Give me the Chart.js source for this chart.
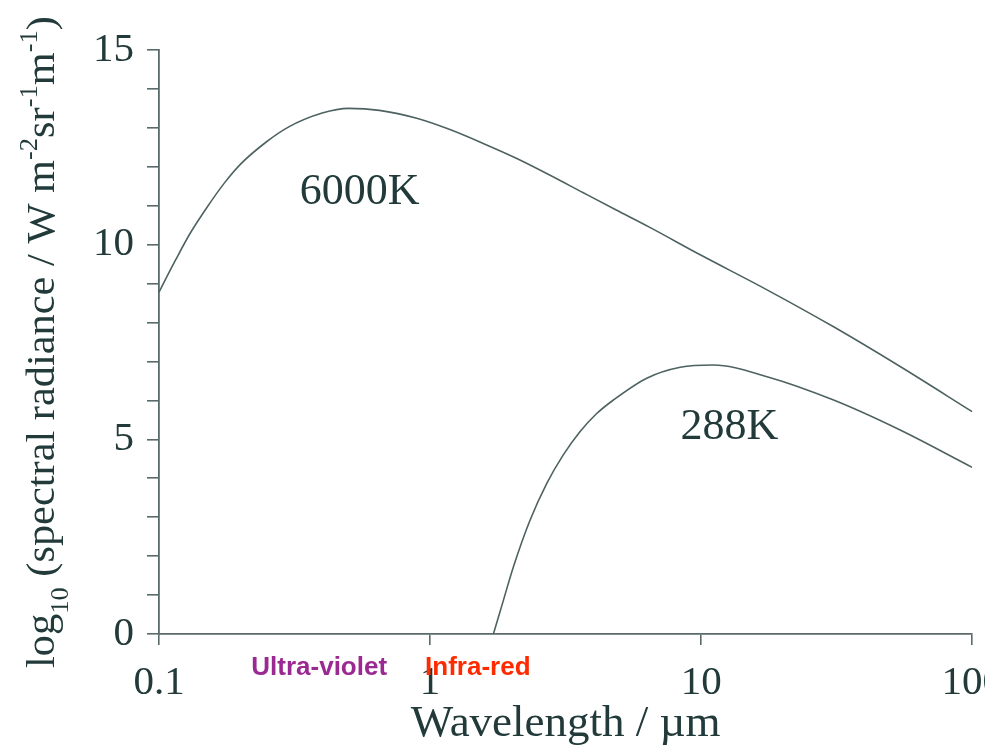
<!DOCTYPE html>
<html>
<head>
<meta charset="utf-8">
<title>Black-body spectral radiance</title>
<script src="https://cdn.jsdelivr.net/npm/chart.js@4.4.1/dist/chart.umd.min.js"></script>
<style>
  html, body { margin: 0; padding: 0; background: #ffffff; overflow: hidden; }
  #wrap { width: 1017px; height: 752px; }
</style>
</head>
<body>
<div id="wrap"><canvas id="c" width="1017" height="752"></canvas></div>
<script>
// Wavelength (µm) and log10 spectral radiance (W m-2 sr-1 m-1) for the 6000 K body
const wl6000  = [0.1, 0.115, 0.13, 0.15, 0.175, 0.2, 0.25, 0.3, 0.4, 0.5, 0.65, 0.9,
                 1.19, 1.57, 2.08, 2.76, 3.66, 4.86, 6.44, 9.92, 17.5, 30.8, 54.2, 100];
const rad6000 = [8.78, 9.6, 10.28, 10.95, 11.6, 12.07, 12.65, 13.02, 13.38, 13.5, 13.45, 13.24,
                 12.95, 12.6, 12.22, 11.79, 11.34, 10.89, 10.45, 9.74, 8.84, 7.89, 6.87, 5.71];

// Same quantity for the 288 K body
const wl288  = [1.712, 1.865, 2.03, 2.339, 2.695, 3.1, 3.577, 4.1, 4.747, 6.3, 8.37, 11.1, 17.5, 30.8, 54.2, 100];
const rad288 = [0, 0.87, 1.73, 2.93, 3.87, 4.6, 5.2, 5.65, 6.01, 6.57, 6.85, 6.91, 6.61, 6.01, 5.24, 4.28];

// Axis ticks
const xTickValues = [0.1, 1, 10, 100];
const xTickLabels = ['0.1', '1', '10', '100'];
const yTickLabels = ['0', '5', '10', '15'];

// In-plot curve names and where they sit (data units)
const curveNames  = ['6000K', '288K'];
const curveLabelX = [0.55, 12.7];
const curveLabelY = [11.35, 5.3];

// Spectral band names under the wavelength axis
const bandNames  = ['Ultra-violet', 'Infra-red'];
const bandColors = ['#9a2a92', '#ff2a00'];

const ink = '#223a3a';
const lineInk = '#4e6262';
const axisInk = '#5a6a6a';
const serif = "'Liberation Serif', 'Times New Roman', serif";

// Y title pieces: normal text, subscript and superscripts
const yTitleParts = [
  { t: 'log', k: 'n' }, { t: '10', k: 'sub' },
  { t: ' (spectral radiance / W m', k: 'n' }, { t: '-2', k: 'sup' },
  { t: 'sr', k: 'n' }, { t: '-1', k: 'sup' },
  { t: 'm', k: 'n' }, { t: '-1', k: 'sup' }, { t: ')', k: 'n' }
];

const overlay = {
  id: 'overlay',
  afterDraw(chart) {
    const { ctx, scales: { x, y } } = chart;
    ctx.save();

    // curve names
    ctx.fillStyle = ink;
    ctx.font = `44px ${serif}`;
    ctx.textAlign = 'center';
    ctx.textBaseline = 'middle';
    curveNames.forEach((name, i) => {
      ctx.fillText(name, x.getPixelForValue(curveLabelX[i]), y.getPixelForValue(curveLabelY[i]));
    });

    // band names either side of 1 µm
    const x1 = x.getPixelForValue(1);
    ctx.font = "bold 26px 'Liberation Sans', Arial, sans-serif";
    ctx.textBaseline = 'alphabetic';
    ctx.fillStyle = bandColors[0];
    ctx.textAlign = 'right';
    ctx.fillText(bandNames[0], x1 - 43, x.top + 41);
    ctx.fillStyle = bandColors[1];
    ctx.textAlign = 'left';
    ctx.fillText(bandNames[1], x1 - 5, x.top + 41);

    // rotated y-axis title with sub/superscripts
    const size = 40;
    ctx.translate(54, 668);
    ctx.rotate(-Math.PI / 2);
    ctx.scale(1.06, 1);
    ctx.fillStyle = ink;
    ctx.textAlign = 'left';
    let cursor = 0;
    yTitleParts.forEach(p => {
      const s = p.k === 'n' ? size : Math.round(size * 0.62);
      const dy = p.k === 'sub' ? size * 0.36 : (p.k === 'sup' ? -size * 0.42 : 0);
      ctx.font = `${s}px ${serif}`;
      ctx.fillText(p.t, cursor, dy);
      cursor += ctx.measureText(p.t).width;
    });

    ctx.restore();
  }
};

const toPoints = (xs, ys) => xs.map((v, i) => ({ x: v, y: ys[i] }));

new Chart(document.getElementById('c'), {
  type: 'line',
  data: {
    datasets: [
      {
        label: '6000K',
        data: toPoints(wl6000, rad6000),
        borderColor: lineInk, borderWidth: 1.6,
        pointRadius: 0, fill: false, cubicInterpolationMode: 'monotone'
      },
      {
        label: '288K',
        data: toPoints(wl288, rad288),
        borderColor: lineInk, borderWidth: 1.6,
        pointRadius: 0, fill: false, cubicInterpolationMode: 'monotone'
      }
    ]
  },
  options: {
    responsive: false,
    animation: false,
    layout: { padding: { top: 50, right: 38, left: 0, bottom: 0 } },
    plugins: { legend: { display: false }, tooltip: { enabled: false } },
    scales: {
      x: {
        type: 'logarithmic', min: 0.1, max: 100, position: 'bottom',
        afterBuildTicks: s => { s.ticks = xTickValues.map(v => ({ value: v })); },
        afterFit: s => { s.height = 118; },
        ticks: {
          autoSkip: false, maxRotation: 0, minRotation: 0, padding: 14,
          color: ink, font: { family: serif, size: 41 },
          callback: (v, i) => xTickLabels[i]
        },
        grid: { drawOnChartArea: false, drawTicks: true, tickLength: 11, color: axisInk, lineWidth: 1.6 },
        border: { display: true, color: axisInk, width: 1.8 },
        title: {
          display: true, text: 'Wavelength / µm', color: ink,
          font: { family: serif, size: 45 }, padding: { top: 0, bottom: 1 }
        }
      },
      y: {
        type: 'linear', min: 0, max: 15,
        afterFit: s => { s.width = 159; },
        ticks: {
          stepSize: 1, autoSkip: false, padding: 13,
          color: ink, font: { family: serif, size: 41 },
          callback: v => (v % 5 === 0 ? yTickLabels[v / 5] : '')
        },
        grid: { drawOnChartArea: false, drawTicks: true, tickLength: 12, color: axisInk, lineWidth: 1.6 },
        border: { display: true, color: axisInk, width: 1.8 }
      }
    }
  },
  plugins: [overlay]
});
</script>
</body>
</html>
